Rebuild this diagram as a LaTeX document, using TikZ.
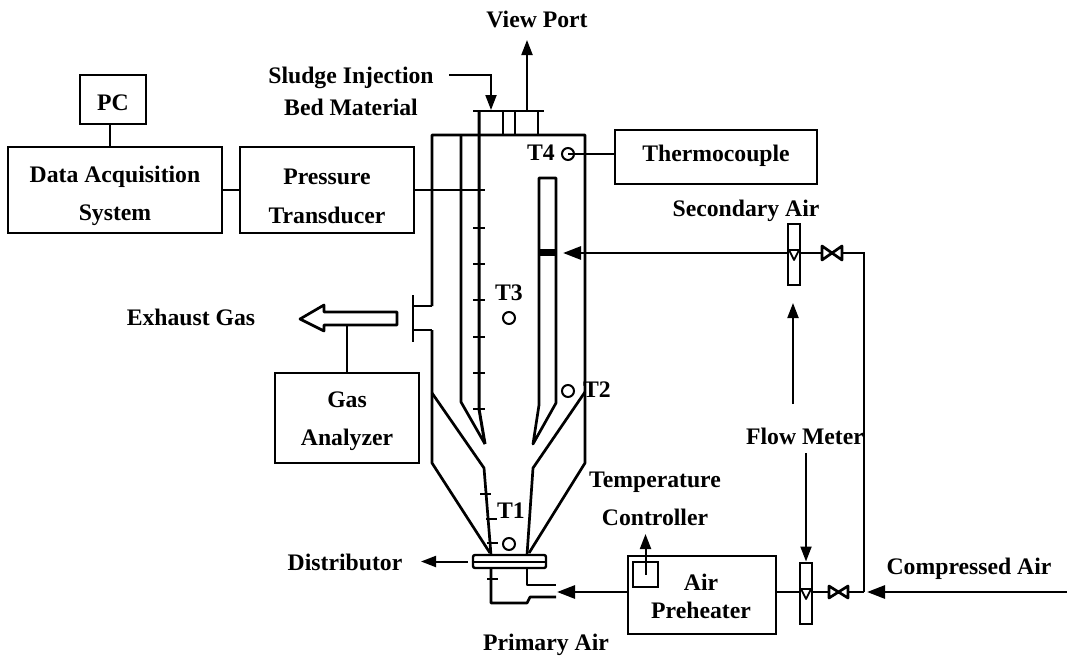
\documentclass[tikz,border=0pt]{standalone}
\usepackage{fontspec}
\setmainfont{Liberation Serif}
\usetikzlibrary{arrows.meta}
\usetikzlibrary{positioning}
\tikzset{
	lbl/.style={inner sep=0pt, align=center, font=\fontsize{23.7}{38.5}\selectfont\bfseries},
	box/.style={draw, line width=2pt, inner sep=0pt, minimum width=#1},
	sensor/.style={circle, draw, line width=2pt, minimum size=12pt, inner sep=0pt},
	meter/.style={draw, line width=2pt, minimum width=12pt, minimum height=61pt, inner sep=0pt},
	wall/.style={line width=2.7pt, line join=round},
	pipe/.style={line width=2.8pt},
	wire/.style={line width=2pt},
	tick/.style={line width=2.2pt},
	tip/.style={-{Stealth[inset=0pt,length=15pt,width=11pt]}},
	bigtip/.style={-{Stealth[inset=0pt,length=18pt,width=13pt]}}
}
\begin{document}
\begin{tikzpicture}[x=1pt,y=-1pt]
	\useasboundingbox (0,0) rectangle (1067,656);

	% instruments
	\begin{scope}[minimum height=86pt]
		\node[box=214pt] (daq) at (115,190) {};
		\node[box=174pt] (pressure) at (327,190) {};
		\node[box=202pt, minimum height=54pt] (thermo) at (716,157) {};
		\node[box=66pt, minimum height=49pt] (pc) at (113,99.5) {};
		\node[box=144pt, minimum height=90pt] (gas) at (347,418) {};
		\node[box=148pt, minimum height=78pt] (heater) at (702,595) {};
	\end{scope}

	% labels
	\begin{scope}[every node/.style={lbl}]
		\node (daqtxt) at (115,196) {Data Acquisition\\System};
		\node (presstxt) at (327,196.5) {Pressure\\Transducer};
		\node (thermotxt) at (716,156) {Thermocouple};
		\node (pctxt) at (113,103) {PC};
		\node (gastxt) at (347,421) {Gas\\Analyzer};
		\node (airtxt) at (701,596) {Air\\[-10.5pt]Preheater};
		\node (view) at (537,19) {View Port};
		\node (sludge) at (351,91) {Sludge Injection\\[-6.5pt]Bed Material};
		\node (second) at (746,211) {Secondary Air};
		\node (exhaust) at (191,317) {Exhaust Gas};
		\node (flow) at (805,436) {Flow Meter};
		\node (control) at (655,499) {Temperature\\Controller};
		\node (dist) at (345,562) {Distributor};
		\node (comp) at (969,569) {Compressed Air};
		\node (prim) at (546,645) {Primary Air};
		\node (lt4) at (541,153) {T4};
		\node (lt3) at (509,293) {T3};
		\node (lt2) at (597,390) {T2};
		\node (lt1) at (511,511) {T1};
	\end{scope}

	% temperature points
	\node[sensor] (t4) at (568,154) {};
	\node[sensor] (t3) at (509,318) {};
	\node[sensor] (t2) at (568,391) {};
	\node[sensor] (t1) at (509,544) {};

	% reactor
	\draw[wall] (432,306) -- (432,135) -- (585,135) -- (585,463) -- (529,553);
	\draw[wall] (432,330) -- (432,463) -- (490,553);
	\draw[wall] (432,393) -- (484,468) -- (491,555);
	\draw[wall] (585,392) -- (533,468) -- (527,555);
	\draw[wall] (461,135) -- (461,402) -- (485,444);
	\draw[wall] (539,178) -- (539,405) -- (533,444) -- (556,403) -- (556,178) -- cycle;
	\fill (538,249) rectangle (557,256);

	% top ports
	\draw[wall] (473,111) -- (544,111);
	\draw[wall] (503,111) -- (503,135);
	\draw[wall] (515,111) -- (515,135);
	\draw[wall] (538,111) -- (538,135);

	% probe
	\draw[line width=3pt] (479,111) -- (479,409) -- (485,444);
	\begin{scope}[tick]
		\draw (473,190) -- (485,190);
		\draw (473,228) -- (485,228);
		\draw (473,264) -- (485,264);
		\draw (473,300) -- (485,300);
		\draw (473,337) -- (485,337);
		\draw (473,373) -- (485,373);
		\draw (473,409) -- (485,409);
		\draw (480,494) -- (491,494);
		\draw (486,519) -- (497,519);
		\draw (487,543) -- (498,543);
		\draw (487,579) -- (498,579);
	\end{scope}

	% distributor and windbox
	\node[draw, line width=2.4pt, rounded corners=2pt, minimum width=73pt, minimum height=13pt, inner sep=0pt] (plate) at (509.5,561.5) {};
	\draw[line width=2pt] (plate.west) -- (plate.east);
	\draw[wall] (491,568) -- (491,603) -- (527,603) -- (530,597) -- (556,597);
	\draw[wall] (527,568) -- (527,585) -- (556,585);

	% exhaust
	\draw[wall] (413,295) -- (413,342);
	\draw[wall] (413,306) -- (432,306);
	\draw[wall] (413,330) -- (432,330);
	\draw[wall] (397,312) -- (324,312) -- (324,305) -- (300,319) -- (324,331) -- (324,325) -- (397,325) -- cycle;
	\coordinate (shaft) at (347,325);
	\draw[wire] (shaft) -- (gas.north -| shaft);

	% heater box
	\node[draw, line width=2.4pt, minimum size=25pt, inner sep=0pt] (coil) at (645.5,574.5) {};
	\draw[tip, wire] (coil.center) -- (645.5,534);

	% flow meters and valves
	\node[meter] (fm2) at (793.5,254) {};
	\node[meter] (fm1) at (806,593) {};
	\draw[line width=1.8pt, line join=round] (789,250) -- (799,250) -- (794,260) -- cycle;
	\draw[line width=1.8pt, line join=round] (801,589) -- (811,589) -- (806,599) -- cycle;
	\coordinate (v2l) at (822,253);
	\coordinate (v2r) at (842,253);
	\coordinate (v1l) at (829,592);
	\coordinate (v1r) at (848,592);
	\draw[wall] (822,246) -- (842,260) -- (842,246) -- (822,260) -- cycle;
	\draw[wall] (829,586) -- (848,598) -- (848,586) -- (829,598) -- cycle;
	\coordinate (junct) at (864,592);
	\coordinate (feed) at (1067,592);

	% air lines
	\begin{scope}[pipe]
		\draw[bigtip] (feed) -- (867,592);
		\draw (junct) -- (v1r);
		\draw (v1l) -- (fm1.east |- v1l);
		\draw (fm1.west |- v1l) -- (heater.east |- v1l);
		\draw[bigtip] (heater.west |- v1l) -- (557,592);
		\draw (junct) -- (864,253) -- (v2r);
		\draw (v2l) -- (fm2.east |- v2l);
		\draw[bigtip] (fm2.west |- v2l) -- (563,253);
	\end{scope}

	% signal lines
	\begin{scope}[wire]
		\draw ([xshift=-3pt]pc.south) -- ([xshift=-3pt]pc.south |- daq.north);
		\draw (daq) -- (pressure);
		\draw (pressure) -- (479,190);
		\draw (t4.center) -- (t4 -| thermo.west);
	\end{scope}

	% callouts
	\draw[tip, wire] (449,75) -- (491,75) -- (491,110);
	\draw[tip, wire] (527,111) -- (527,40);
	\draw[tip, wire] (plate.west) ++(-4,0) -- (421,561.5);
	\draw[tip, wire] (793,404) -- (793,303);
	\draw[tip, wire] (806,453) -- (fm1.north);
\end{tikzpicture}
\end{document}
